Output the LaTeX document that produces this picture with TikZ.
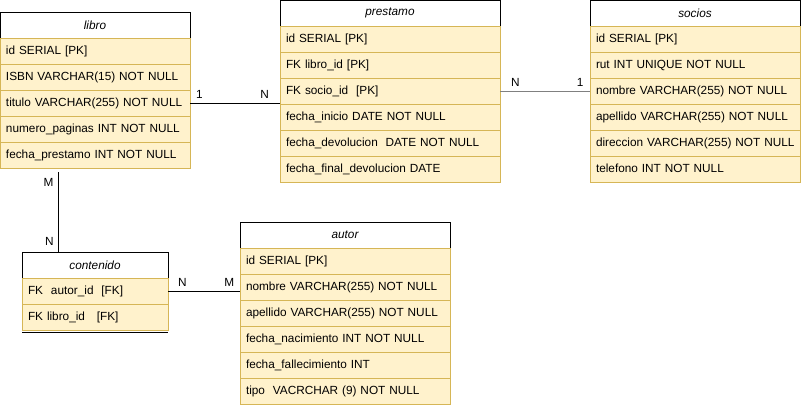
\documentclass[tikz,border=0pt]{standalone}
\usepackage{fontspec}
\setmainfont{Liberation Sans}
\usepackage{tikz}
\usetikzlibrary{positioning}
\usetikzlibrary{calc}
\definecolor{rowfill}{HTML}{FFF2CC}
\definecolor{rowline}{HTML}{D6B656}
\definecolor{linkgray}{HTML}{808080}

\begin{document}
\begin{tikzpicture}[ node distance=0pt,
    every node/.style={font=\fontsize{8.85pt}{10.6pt}\selectfont},
    header/.style={
        draw,
        fill=white,
        line width=0.75pt,
        minimum height=19.5pt,
        inner sep=0pt,
        outer sep=0pt,
        anchor=north west,
        font=\fontsize{8.85pt}{10.6pt}\selectfont\itshape },
    field/.style={
        draw=rowline,
        fill=rowfill,
        line width=0.75pt,
        minimum height=19.5pt,
        text width=#1,
        text height=6.6pt,
        text depth=1.9pt,
        inner xsep=4.5pt,
        inner ysep=0pt,
        outer sep=0pt,
        align=left,
        execute at begin node=\hbox\bgroup,
        execute at end node=\egroup },
    link/.style={line width=0.75pt} ]
    \useasboundingbox (0,0) rectangle (600.75pt,-306pt);

    % libro
    \node[header, minimum width=142.5pt] (libro) at (0pt,-9pt) {libro};
    \node[field=133.5pt, below=of libro] (libro-1) {id SERIAL [PK]};
    \node[field=133.5pt, below=of libro-1] (libro-2) {ISBN VARCHAR(15) NOT NULL};
    \node[field=133.5pt, below=of libro-2] (libro-3) {titulo VARCHAR(255) NOT NULL};
    \node[field=133.5pt, below=of libro-3] (libro-4) {numero\_paginas INT NOT NULL};
    \node[field=133.5pt, below=of libro-4] (libro-5) {fecha\_prestamo INT NOT NULL};

    % prestamo
    \node[header, minimum width=165pt] (prestamo) at (210pt,0pt) {prestamo};
    \node[field=156pt, below=of prestamo] (prestamo-1) {id SERIAL [PK]};
    \node[field=156pt, below=of prestamo-1] (prestamo-2) {FK libro\_id [PK]};
    \node[field=156pt, below=of prestamo-2] (prestamo-3) {FK socio\_id\ \ [PK]};
    \node[field=156pt, below=of prestamo-3] (prestamo-4) {fecha\_inicio DATE NOT NULL};
    \node[field=156pt, below=of prestamo-4] (prestamo-5) {fecha\_devolucion\ \ DATE NOT NULL};
    \node[field=156pt, below=of prestamo-5] (prestamo-6) {fecha\_final\_devolucion DATE};

    % socios
    \node[header, minimum width=157.5pt] (socios) at (442.5pt,0pt) {socios};
    \node[field=148.5pt, below=of socios] (socios-1) {id SERIAL [PK]};
    \node[field=148.5pt, below=of socios-1] (socios-2) {rut INT UNIQUE NOT NULL};
    \node[field=148.5pt, below=of socios-2] (socios-3) {nombre VARCHAR(255) NOT NULL};
    \node[field=148.5pt, below=of socios-3] (socios-4) {apellido VARCHAR(255) NOT NULL};
    \node[field=148.5pt, below=of socios-4] (socios-5) {direccion VARCHAR(255) NOT NULL};
    \node[field=148.5pt, below=of socios-5] (socios-6) {telefono INT NOT NULL};

    % contenido
    \node[header, minimum width=109.5pt] (contenido) at (16.5pt,-189pt) {contenido};
    \node[field=100.5pt, below=of contenido] (contenido-1) {FK\ \ autor\_id\ \ [FK]};
    \node[field=100.5pt, below=of contenido-1] (contenido-2) {FK libro\_id\ \ \ [FK]};
    \draw[link] ([yshift=-1.5pt]contenido-2.south west) -- ([yshift=-1.5pt]contenido-2.south east);

    % autor
    \node[header, minimum width=157.5pt] (autor) at (180pt,-166.5pt) {autor};
    \node[field=148.5pt, below=of autor] (autor-1) {id SERIAL [PK]};
    \node[field=148.5pt, below=of autor-1] (autor-2) {nombre VARCHAR(255) NOT NULL};
    \node[field=148.5pt, below=of autor-2] (autor-3) {apellido VARCHAR(255) NOT NULL};
    \node[field=148.5pt, below=of autor-3] (autor-4) {fecha\_nacimiento INT NOT NULL};
    \node[field=148.5pt, below=of autor-4] (autor-5) {fecha\_fallecimiento INT};
    \node[field=148.5pt, below=of autor-5] (autor-6) {tipo\ \ VACRCHAR (9) NOT NULL};

    % relaciones
    \draw[link] (libro-3.east) -- (libro-3.east -| prestamo-3.west)
        node[pos=.105, above] {1} node[pos=.83, above] {N};
    \draw[link, linkgray] (prestamo-3.east) -- (socios-3.west)
        node[pos=.17, above, black] {N} node[pos=.89, above, black] {1};
    \coordinate (drop) at ($(contenido.north west)!0.25!(contenido.north east)$);
    \draw[link, shorten <=3pt] (drop |- libro-5.south) -- (drop)
        node[pos=.17, left] {M} node[pos=.88, left] {N};
    \draw[link] (contenido-1.east) -- (contenido-1.east -| autor.west)
        node[pos=.2, above] {N} node[pos=.85, above] {M};
\end{tikzpicture}
\end{document}
